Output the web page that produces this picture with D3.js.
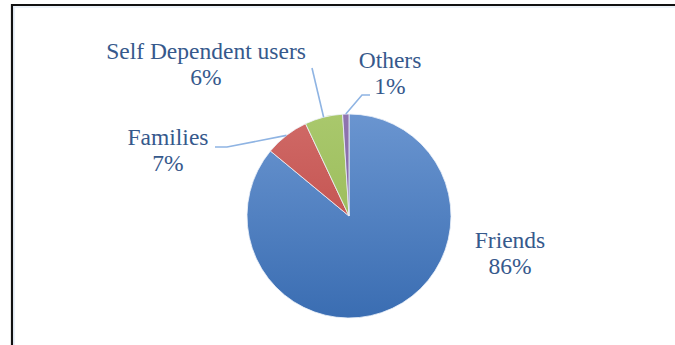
<!DOCTYPE html>
<html>
<head>
<meta charset="utf-8">
<script src="https://cdn.jsdelivr.net/npm/d3@7"></script>
<style>
  html, body { margin: 0; padding: 0; background: #fff; }
  svg { display: block; }
</style>
</head>
<body>
<svg id="chart" width="675" height="345"></svg>
<script>
// User categories and their shares (%)
const categories = ["Friends", "Families", "Self Dependent users", "Others"];
const shares = [86, 7, 6, 1];
const percentLabels = ["86%", "7%", "6%", "1%"];

// Slice fills: light top, dark bottom
const fillTop = ["#6a95d0", "#d06a67", "#a9c86c", "#8f75b0"];
const fillBottom = ["#3a6db2", "#bb423f", "#92b450", "#7a5d9d"];

const W = 675, H = 345;
const cx = 349, cy = 216, R = 102;

const svg = d3.select("#chart");

// Frame: dark top and left rules with a faint inner line
svg.append("line").attr("x1", 11).attr("x2", W).attr("y1", 5).attr("y2", 5)
  .attr("stroke", "#111").attr("stroke-width", 2.2);
svg.append("line").attr("x1", 12).attr("x2", 12).attr("y1", 4).attr("y2", H)
  .attr("stroke", "#111").attr("stroke-width", 2.2);
svg.append("line").attr("x1", 13.5).attr("x2", W).attr("y1", 7).attr("y2", 7)
  .attr("stroke", "#dce7f4").attr("stroke-width", 1.2);
svg.append("line").attr("x1", 14).attr("x2", 14).attr("y1", 6.5).attr("y2", H)
  .attr("stroke", "#dce7f4").attr("stroke-width", 1.2);

// Vertical gradients in the pie group's own coordinates
const defs = svg.append("defs");
categories.forEach((c, i) => {
  const g = defs.append("linearGradient")
    .attr("id", "grad" + i)
    .attr("gradientUnits", "userSpaceOnUse")
    .attr("x1", 0).attr("y1", -R).attr("x2", 0).attr("y2", R);
  g.append("stop").attr("offset", "0%").attr("stop-color", fillTop[i]);
  g.append("stop").attr("offset", "100%").attr("stop-color", fillBottom[i]);
});

const data = categories.map((c, i) => ({ name: c, value: shares[i], pct: percentLabels[i], i }));

const pie = d3.pie().value(d => d.value).sort(null);
const arcs = pie(data);
const arc = d3.arc().innerRadius(0).outerRadius(R);

const g = svg.append("g").attr("transform", `translate(${cx},${cy})`);

g.selectAll("path.slice").data(arcs).join("path")
  .attr("class", "slice")
  .attr("d", arc)
  .attr("fill", d => `url(#grad${d.data.i})`)
  .attr("stroke", "#eef3fa")
  .attr("stroke-width", 0.8)
  .attr("stroke-linejoin", "round");

// Label layout (relative to the pie centre): text anchor point and optional leader path
const labelLayout = {
  "Friends": { tx: 161, ty: 32, leader: null },
  "Families": { tx: -181, ty: -71, leader: [[-122, -69], [-134, -69]] },
  "Self Dependent users": { tx: -143, ty: -157, leader: [[-37, -148]] },
  "Others": { tx: 41, ty: -148, leader: [[13, -121], [21, -121]] }
};

// Leader lines start at the slice edge at its mid-angle
arcs.forEach(a => {
  const L = labelLayout[a.data.name];
  if (!L.leader) return;
  const mid = (a.startAngle + a.endAngle) / 2;
  const start = [Math.sin(mid) * R, -Math.cos(mid) * R];
  const pts = [start, ...L.leader];
  g.append("path")
    .attr("d", d3.line()(pts))
    .attr("fill", "none")
    .attr("stroke", "#8fb4e3")
    .attr("stroke-width", 1.6);
});

// Category name and percentage, two centred lines
arcs.forEach(a => {
  const L = labelLayout[a.data.name];
  const t = g.append("text")
    .attr("text-anchor", "middle")
    .style("font-family", '"Liberation Serif"')
    .style("font-size", "23.5px")
    .attr("fill", "#36598c");
  t.append("tspan").attr("x", L.tx).attr("y", L.ty).text(a.data.name);
  t.append("tspan").attr("x", L.tx).attr("y", L.ty + 26).text(a.data.pct);
});
</script>
</body>
</html>
